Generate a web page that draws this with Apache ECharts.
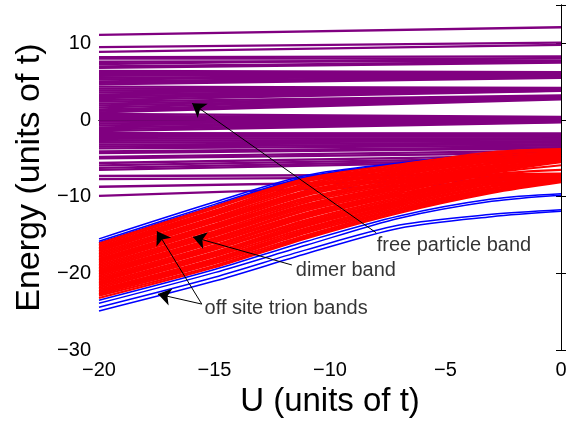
<!DOCTYPE html>
<html>
<head>
<meta charset="utf-8">
<script src="https://cdn.jsdelivr.net/npm/echarts@6/dist/echarts.min.js"></script>
<style>
  html, body { margin: 0; padding: 0; background: #fff; }
  #chart { width: 580px; height: 423px; }
</style>
</head>
<body>
<div id="chart"></div>
<script>
// Interaction strength U (units of t) at which each free-particle level is sampled
const uFree = [-20, 0];
// Free particle band: energy of each level at U = -20 and U = 0
const freeBand = [
  [11.1, 12.1], [9.5, 10.1], [8.9, 9.8], [8.2, 8.3], [8.0, 8.0], [7.6, 7.7],
  [7.3, 8.1], [7.0, 7.6], [6.8, 7.5],
  [6.4, 6.25], [6.2, 6.2], [6.0, 6.1], [5.75, 6.0], [5.5, 5.9], [5.3, 5.8],
  [5.05, 5.7], [4.85, 5.6], [4.65, 5.5],
  [4.35, 4.2], [4.1, 4.15], [3.85, 4.1], [3.6, 4.0], [3.35, 3.95], [3.1, 3.9],
  [2.85, 3.85], [2.6, 3.8],
  [2.4, 3.2], [2.15, 3.1], [1.9, 3.0], [1.65, 2.95], [1.4, 2.85], [1.2, 2.8], [1.0, 2.7],
  [0.8, 0.4], [0.55, 0.3], [0.3, 0.25], [0.05, 0.15], [-0.2, 0.05], [-0.45, 0.0],
  [-0.7, -0.1], [-0.95, -0.15], [-1.2, -0.25], [-1.45, -0.3],
  [-1.7, -1.75], [-1.95, -1.95], [-2.2, -2.15], [-2.45, -2.35], [-2.7, -2.55],
  [-2.95, -2.75], [-3.2, -2.95], [-3.45, -3.15], [-3.7, -3.35], [-4.1, -3.55], [-4.3, -3.7],
  [-4.8, -4.0], [-5.0, -4.3], [-5.6, -4.6], [-5.9, -4.9], [-6.25, -5.1], [-6.5, -5.3],
  [-7.3, -7.1], [-7.7, -7.4], [-8.7, -7.7], [-9.9, -7.9]
];

// Interaction strengths at which the bound-state levels are sampled
const uBound = [-20, -15, -11, -7, -3, 0];
// Dimer band: energy of each level at the U values above
const dimerBand = [
  [-16.1, -11.3, -7.6, -5.8, -4.2, -3.8],
  [-16.3, -11.5, -7.8, -6.0, -4.4, -4.0],
  [-16.5, -11.8, -8.0, -6.2, -4.5, -3.9],
  [-16.7, -12.0, -8.3, -6.3, -4.7, -4.2],
  [-16.9, -12.2, -8.5, -6.5, -4.8, -4.1],
  [-17.1, -12.4, -8.7, -6.7, -5.0, -4.4],
  [-17.3, -12.7, -8.9, -6.9, -5.1, -4.3],
  [-17.5, -12.9, -9.2, -7.1, -5.3, -4.6],
  [-17.7, -13.1, -9.4, -7.2, -5.4, -4.5],
  [-17.9, -13.3, -9.6, -7.4, -5.6, -4.8],
  [-18.1, -13.6, -9.8, -7.6, -5.7, -4.7],
  [-18.3, -13.8, -10.1, -7.8, -5.9, -5.0],
  [-18.5, -14.0, -10.3, -8.0, -6.0, -4.9],
  [-18.7, -14.2, -10.5, -8.1, -6.2, -5.2],
  [-18.9, -14.5, -10.7, -8.3, -6.3, -5.1],
  [-19.1, -14.7, -11.0, -8.5, -6.5, -5.4],
  [-19.3, -14.9, -11.2, -8.7, -6.6, -5.3],
  [-19.5, -15.1, -11.4, -8.9, -6.8, -5.5],
  [-19.7, -15.4, -11.6, -9.0, -6.9, -5.9],
  [-19.9, -15.6, -11.8, -9.2, -7.1, -6.5],
  [-20.1, -15.8, -12.1, -9.4, -7.2, -7.0],
  [-20.3, -16.0, -12.3, -9.6, -7.4, -7.1],
  [-20.5, -16.3, -12.5, -9.8, -7.5, -7.2],
  [-20.7, -16.5, -12.7, -9.9, -7.7, -7.3],
  [-20.9, -16.7, -13.0, -10.1, -7.8, -7.4],
  [-21.1, -16.9, -13.2, -10.3, -8.0, -7.5],
  [-21.3, -17.2, -13.4, -10.5, -8.1, -7.55],
  [-21.5, -17.4, -13.6, -10.7, -8.3, -7.6],
  [-21.7, -17.6, -13.8, -10.8, -8.4, -7.7],
  [-21.9, -17.8, -14.1, -11.0, -8.6, -7.75],
  [-22.1, -18.1, -14.3, -11.2, -8.7, -7.8],
  [-22.3, -18.3, -14.5, -11.4, -8.9, -7.85],
  [-22.5, -18.5, -14.7, -11.6, -9.0, -7.9],
  [-22.7, -18.7, -15.0, -11.7, -9.2, -7.95],
  [-22.9, -19.0, -15.2, -11.9, -9.3, -8.0],
  [-23.2, -19.2, -15.4, -12.1, -9.5, -8.1]
];
// Off-site trion bands (upper and lower edges of the bound-state region)
const trionBands = [
  [-15.5, -10.7, -7.2, -5.6, -4.3, -3.9],
  [-15.8, -11.0, -7.4, -5.7, -4.4, -4.0],
  [-16.0, -11.2, -7.5, -5.8, -4.5, -4.1],
  [-23.5, -19.5, -15.8, -12.5, -10.3, -9.6],
  [-23.9, -19.9, -16.3, -12.8, -10.6, -9.8],
  [-24.4, -20.5, -16.9, -13.7, -12.3, -11.7],
  [-24.9, -21.0, -17.4, -14.1, -12.6, -11.9]
];

// Axis ticks
const xTicks = [-20, -15, -10, -5, 0];
const yTicks = [-30, -20, -10, 0, 10];

// Annotation labels and the (U, E) points their arrows run between
const noteLabels = ['free particle band', 'dimer band', 'off site trion bands'];
const noteAnchors = [[-8.0, -16.4], [-11.5, -19.6], [-15.45, -24.6]];
const noteArrows = [
  [[-8.0, -14.7], [-15.97, 2.18]],
  [[-11.65, -18.9], [-15.93, -15.26]],
  [[-15.55, -24.0], [-17.49, -14.5]],
  [[-15.55, -24.0], [-17.45, -22.7]]
];

const FONT = '"Liberation Sans", Arial, Helvetica, sans-serif';
const minus = v => String(v).replace('-', '\u2212');

function bandSeries(rows, us, color, width, smooth) {
  return rows.map(row => ({
    type: 'line',
    data: us.map((u, k) => [u, row[k]]),
    symbol: 'none',
    showSymbol: false,
    silent: true,
    smooth: smooth,
    lineStyle: { color: color, width: width },
    z: 2
  }));
}

const series = [].concat(
  bandSeries(freeBand, uFree, '#800080', 2.3, false),
  bandSeries(trionBands, uBound, '#0000ff', 1.5, 0.3),
  bandSeries(dimerBand, uBound, '#ff0000', 2.2, 0.3),
  [{
    type: 'lines',
    coordinateSystem: 'cartesian2d',
    silent: true,
    symbol: ['none', 'arrow'],
    symbolSize: [9, 13],
    lineStyle: { color: '#000', width: 1, opacity: 1 },
    data: noteArrows.map(c => ({ coords: c })),
    z: 10
  }, {
    type: 'scatter',
    silent: true,
    symbolSize: 1,
    itemStyle: { color: 'transparent' },
    label: {
      show: true,
      position: 'right',
      distance: 0,
      formatter: '{b}',
      color: '#000',
      fontSize: 20,
      fontFamily: FONT
    },
    data: noteLabels.map((t, i) => ({ name: t, value: noteAnchors[i] })),
    z: 11
  }]
);

const axisLineStyle = { lineStyle: { color: '#000', width: 1 } };
const tickStyle = { show: true, inside: true, length: 5, lineStyle: { color: '#000', width: 1 } };

const option = {
  animation: false,
  backgroundColor: '#fff',
  grid: { left: 99, right: 19, top: 5, bottom: 68, containLabel: false },
  xAxis: [{
    type: 'value',
    min: xTicks[0], max: xTicks[xTicks.length - 1], interval: 5,
    position: 'bottom',
    axisLine: axisLineStyle,
    axisTick: tickStyle,
    splitLine: { show: false },
    axisLabel: { color: '#000', fontSize: 20, fontFamily: FONT, margin: 10, formatter: minus },
    name: 'U (units of t)',
    nameLocation: 'middle',
    nameGap: 30,
    nameTextStyle: { color: '#000', fontSize: 33, fontFamily: FONT }
  }, {
    type: 'value',
    min: xTicks[0], max: xTicks[xTicks.length - 1], interval: 5,
    position: 'top',
    axisLine: axisLineStyle,
    axisTick: tickStyle,
    splitLine: { show: false },
    axisLabel: { show: false }
  }],
  yAxis: [{
    type: 'value',
    min: yTicks[0], max: 15, interval: 10,
    position: 'left',
    axisLine: axisLineStyle,
    axisTick: tickStyle,
    splitLine: { show: false },
    axisLabel: {
      color: '#000', fontSize: 20, fontFamily: FONT, margin: 8,
      formatter: v => (yTicks.indexOf(v) < 0 ? '' : minus(v))
    },
    name: 'Energy (units of t)',
    nameLocation: 'middle',
    nameGap: 50,
    nameTextStyle: { color: '#000', fontSize: 34, fontFamily: FONT }
  }, {
    type: 'value',
    min: yTicks[0], max: 15, interval: 10,
    position: 'right',
    axisLine: axisLineStyle,
    axisTick: tickStyle,
    splitLine: { show: false },
    axisLabel: { show: false }
  }],
  series: series
};

const chart = echarts.init(document.getElementById('chart'), null, { renderer: 'canvas' });
chart.setOption(option);
</script>
</body>
</html>
